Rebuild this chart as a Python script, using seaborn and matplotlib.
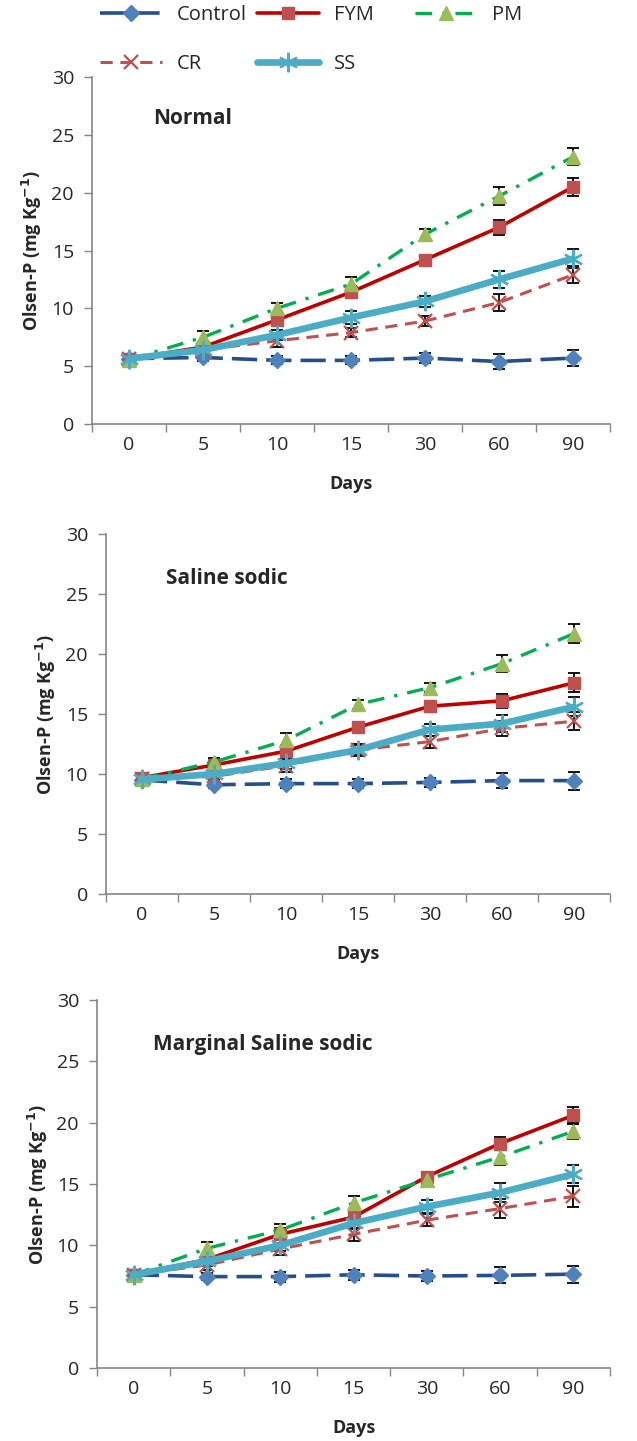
import numpy as np
import pandas as pd
import matplotlib
matplotlib.use("Agg")
import matplotlib.pyplot as plt
import seaborn as sns
from matplotlib.lines import Line2D

sns.set_theme(style="white")
plt.rcParams['font.family'] = ['Open Sans', 'DejaVu Sans']

days = ["0", "5", "10", "15", "30", "60", "90"]
series = ["Control", "FYM", "PM", "CR", "SS"]

# Normal
normal_control = [5.65, 5.75, 5.5, 5.5, 5.7, 5.4, 5.7]
normal_fym = [5.65, 6.65, 9.0, 11.4, 14.2, 17.0, 20.5]
normal_pm = [5.55, 7.5, 10.0, 12.1, 16.4, 19.7, 23.1]
normal_cr = [5.65, 6.4, 7.2, 7.9, 8.9, 10.5, 12.9]
normal_ss = [5.65, 6.4, 7.7, 9.2, 10.6, 12.5, 14.3]
normal_err_control = [0.2, 0.3, 0.35, 0.35, 0.45, 0.65, 0.7]
normal_err_fym = [0.2, 0.3, 0.5, 0.5, 0.4, 0.65, 0.75]
normal_err_pm = [0.2, 0.5, 0.5, 0.65, 0.5, 0.75, 0.75]
normal_err_cr = [0.2, 0.3, 0.5, 0.4, 0.45, 0.7, 0.75]
normal_err_ss = [0.2, 0.4, 0.45, 0.55, 0.5, 0.75, 0.8]

# Saline sodic
saline_control = [9.5, 9.1, 9.2, 9.2, 9.3, 9.45, 9.45]
saline_fym = [9.7, 10.75, 11.9, 13.9, 15.65, 16.1, 17.6]
saline_pm = [9.6, 11.0, 12.8, 15.8, 17.2, 19.2, 21.7]
saline_cr = [9.6, 9.8, 10.7, 12.0, 12.7, 13.8, 14.4]
saline_ss = [9.55, 10.0, 10.9, 12.0, 13.7, 14.2, 15.6]
saline_err_control = [0.2, 0.3, 0.4, 0.4, 0.4, 0.65, 0.75]
saline_err_fym = [0.2, 0.3, 0.5, 0.4, 0.4, 0.6, 0.8]
saline_err_pm = [0.2, 0.3, 0.6, 0.4, 0.4, 0.7, 0.8]
saline_err_cr = [0.2, 0.3, 0.5, 0.45, 0.5, 0.6, 0.75]
saline_err_ss = [0.2, 0.35, 0.45, 0.5, 0.5, 0.7, 0.8]

# Marginal saline sodic
marginal_control = [7.6, 7.45, 7.45, 7.6, 7.5, 7.55, 7.65]
marginal_fym = [7.6, 8.85, 10.9, 12.3, 15.6, 18.3, 20.6]
marginal_pm = [7.6, 9.75, 11.25, 13.45, 15.35, 17.2, 19.3]
marginal_cr = [7.6, 8.4, 9.7, 10.9, 12.05, 13.0, 14.0]
marginal_ss = [7.6, 8.7, 10.0, 11.8, 13.15, 14.3, 15.8]
marginal_err_control = [0.2, 0.3, 0.4, 0.4, 0.4, 0.65, 0.7]
marginal_err_fym = [0.2, 0.3, 0.5, 0.5, 0.4, 0.5, 0.7]
marginal_err_pm = [0.2, 0.5, 0.5, 0.6, 0.4, 0.65, 0.65]
marginal_err_cr = [0.2, 0.4, 0.5, 0.55, 0.5, 0.75, 0.85]
marginal_err_ss = [0.2, 0.4, 0.45, 0.5, 0.55, 0.75, 0.75]

panels = [
    ("Normal", [normal_control, normal_fym, normal_pm, normal_cr, normal_ss],
     [normal_err_control, normal_err_fym, normal_err_pm, normal_err_cr, normal_err_ss]),
    ("Saline sodic", [saline_control, saline_fym, saline_pm, saline_cr, saline_ss],
     [saline_err_control, saline_err_fym, saline_err_pm, saline_err_cr, saline_err_ss]),
    ("Marginal Saline sodic", [marginal_control, marginal_fym, marginal_pm, marginal_cr, marginal_ss],
     [marginal_err_control, marginal_err_fym, marginal_err_pm, marginal_err_cr, marginal_err_ss]),
]

styles = {
    "Control": dict(color="#254F8C", ls=(0, (7, 2.5)), lw=2.6, marker="D", mfc="#4F81BD", mec="#4F81BD", ms=8, mew=1),
    "FYM": dict(color="#C00000", ls="-", lw=2.6, marker="s", mfc="#C0504D", mec="#C0504D", ms=9, mew=1),
    "PM": dict(color="#00B050", ls=(0, (5, 3, 1, 3)), lw=2.4, marker="^", mfc="#9BBB59", mec="#9BBB59", ms=10, mew=1),
    "CR": dict(color="#C0504D", ls=(0, (4, 2.5)), lw=2.2, marker="x", mfc="#C0504D", mec="#C0504D", ms=10, mew=1.6),
    "SS": dict(color="#4BACC6", ls="-", lw=4.8, marker=(6, 2, 0), mfc="#4BACC6", mec="#4BACC6", ms=14, mew=1.6),
}

W, H = 637, 1441
fig = plt.figure(figsize=(W / 100, H / 100), dpi=100)

# axes boxes in pixels: left, right, top(30), bottom(0)
boxes = [(92, 610, 77, 424), (106, 610, 534, 894), (97, 610, 1000, 1368)]
title_pos = [(0.118, 0.88), (0.119, 0.875), (0.109, 0.88)]

x = np.arange(len(days))
gray = "#868686"
for (title, vals, errs), (l, r, t, b), tp in zip(panels, boxes, title_pos):
    ax = fig.add_axes([l / W, 1 - b / H, (r - l) / W, (b - t) / H])
    draw_order = ["Control", "CR", "FYM", "PM", "SS"]
    for name in draw_order:
        i = series.index(name)
        ax.errorbar(x, vals[i], yerr=errs[i], fmt="none", ecolor="black", elinewidth=1.3, capsize=4, capthick=1.3, zorder=2)
    for name in draw_order:
        i = series.index(name)
        st = styles[name]
        df = pd.DataFrame({"x": x, "y": vals[i]})
        sns.lineplot(data=df, x="x", y="y", ax=ax, color=st["color"], linestyle=st["ls"], lw=st["lw"],
                     marker=st["marker"], markerfacecolor=st["mfc"], markeredgecolor=st["mec"],
                     markersize=st["ms"], markeredgewidth=st["mew"], zorder=3)
    ax.set_xlim(-0.5, len(days) - 0.5)
    ax.set_ylim(0, 30)
    ax.set_yticks(np.arange(0, 31, 5))
    ax.set_yticklabels([str(v) for v in range(0, 31, 5)], fontsize=14)
    ax.set_xticks(np.arange(-0.5, len(days), 1.0))
    ax.set_xticklabels([])
    ax.set_xticks(x, minor=True)
    ax.set_xticklabels(days, minor=True, fontsize=14)
    ax.tick_params(axis="x", which="major", length=6, width=1, color=gray, direction="out", bottom=True)
    ax.tick_params(axis="x", which="minor", length=0, pad=9)
    ax.tick_params(axis="y", length=6, width=1, color=gray, direction="out", left=True, pad=7)
    for s in ["top", "right"]:
        ax.spines[s].set_visible(False)
    for s in ["left", "bottom"]:
        ax.spines[s].set_color(gray)
        ax.spines[s].set_linewidth(1.2)
    ax.set_xlabel("Days", fontsize=13, fontweight="bold", labelpad=15)
    ax.set_ylabel("Olsen-P (mg Kg$^{\\mathbf{-1}}$)", fontsize=13, fontweight="bold", labelpad=5)
    ax.text(tp[0], tp[1], title, transform=ax.transAxes, fontsize=15, fontweight="bold", va="center", ha="left")
    ax.grid(False)


def handle(name):
    st = styles[name]
    return Line2D([0], [0], color=st["color"], ls=st["ls"], lw=st["lw"], marker=st["marker"],
                  markerfacecolor=st["mfc"], markeredgecolor=st["mec"], markersize=st["ms"],
                  markeredgewidth=st["mew"])


legend_cols = [(["Control", "CR"], 100), (["FYM", "SS"], 257), (["PM"], 415)]
for names, xpix in legend_cols:
    fig.legend([handle(n) for n in names], names, loc="upper left",
               bbox_to_anchor=(xpix / W, 1 - 5 / H), frameon=False, fontsize=14.5,
               handlelength=3.1, labelspacing=1.45, handletextpad=0.7,
               borderpad=0, borderaxespad=0)

fig.savefig("out.png", dpi=100)
